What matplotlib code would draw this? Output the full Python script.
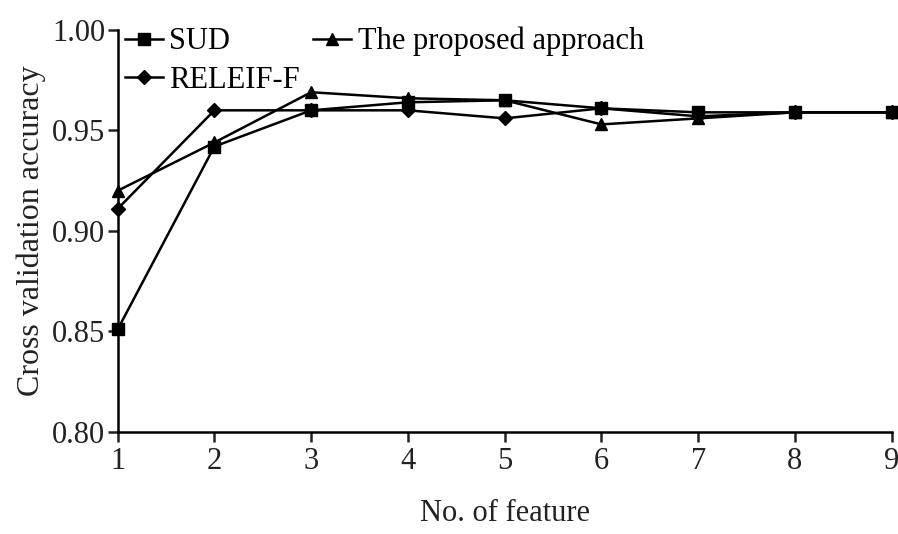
import matplotlib
matplotlib.use("Agg")
import matplotlib.pyplot as plt

features = [1, 2, 3, 4, 5, 6, 7, 8, 9]
sud = [0.851, 0.942, 0.960, 0.964, 0.965, 0.961, 0.959, 0.959, 0.959]
releif = [0.911, 0.960, 0.960, 0.960, 0.956, 0.961, 0.957, 0.959, 0.959]
proposed = [0.920, 0.944, 0.969, 0.966, 0.965, 0.953, 0.956, 0.959, 0.959]

plt.rcParams['font.family'] = ['Liberation Serif', 'DejaVu Serif']

fig = plt.figure(figsize=(8.98, 5.34), dpi=100)
ax = fig.add_axes([0.131, 0.191, 0.862, 0.753])

ax.plot(features, sud, color='black', lw=1.8, marker='s', ms=8, label='SUD', clip_on=False, zorder=3)
ax.plot(features, releif, color='black', lw=1.8, marker='D', ms=7, label='RELEIF-F', clip_on=False, zorder=3)
ax.plot(features, proposed, color='black', lw=1.8, marker='^', ms=8, label='The proposed approach', clip_on=False, zorder=3)

ax.set_xlim(1, 9)
ax.set_ylim(0.80, 1.00)
ax.set_xticks(features)
ax.set_yticks([0.80, 0.85, 0.90, 0.95, 1.00])
ax.set_yticklabels(['0.80', '0.85', '0.90', '0.95', '1.00'])
ax.spines['top'].set_visible(False)
ax.spines['right'].set_visible(False)
for s in ['left', 'bottom']:
    ax.spines[s].set_linewidth(1.8)
ax.tick_params(axis='both', direction='out', length=7, width=1.8, labelsize=22, colors='#222222')
ax.tick_params(axis='x', pad=4)
ax.tick_params(axis='y', pad=2)

ax.set_xlabel('No. of feature', fontsize=22, labelpad=16, color='#222222')
ax.set_ylabel('Cross validation accuracy', fontsize=23, labelpad=4, color='#222222')

ax.legend(loc='upper left', bbox_to_anchor=(0.005, 1.015), ncol=2, frameon=False, fontsize=22,
          handlelength=1.25, handletextpad=0.2, columnspacing=0.45, labelspacing=0.3,
          borderaxespad=0.0, borderpad=0.1)

fig.savefig('out.png', dpi=100)
